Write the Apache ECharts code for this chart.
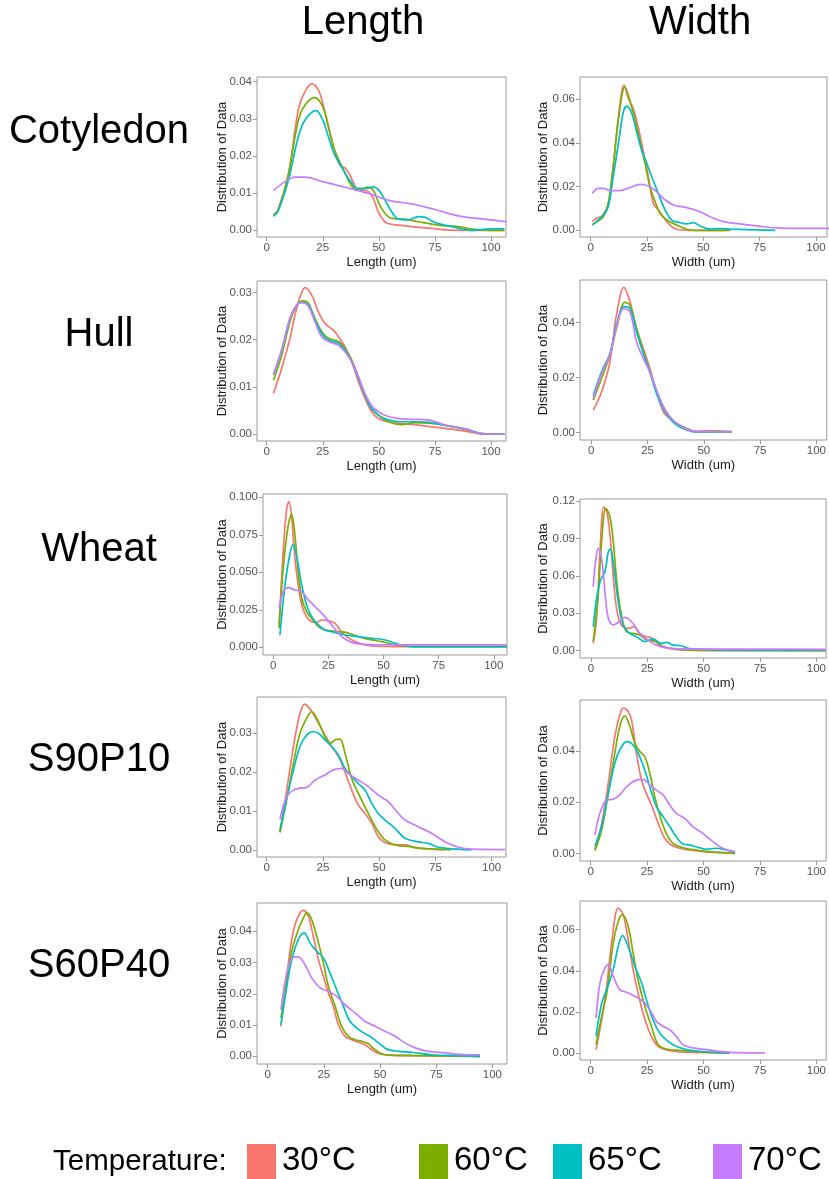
<!DOCTYPE html>
<html>
<head>
<meta charset="utf-8">
<script src="https://cdn.jsdelivr.net/npm/echarts@6/dist/echarts.min.js"></script>
<style>
html,body{margin:0;padding:0;background:#fff;}
#chart{width:829px;height:1179px;}
</style>
</head>
<body>
<div id="chart"></div>
<script>
// ---------- DATA ----------
const temperatures = ['30°C', '60°C', '65°C', '70°C'];
const columnTitles = ['Length', 'Width'];
const rowTitles = ['Cotyledon', 'Hull', 'Wheat', 'S90P10', 'S60P40'];
const xTicks = [0, 25, 50, 75, 100];

// Cotyledon - Length
const cotLen30 = [[3.0,0.0041],[5,0.0055],[9.7,0.0153],[14.1,0.0324],[17.1,0.0373],[20.1,0.0394],[23,0.0378],[25,0.0342],[27.5,0.0279],[30,0.0221],[32.5,0.0176],[35,0.0167],[37.5,0.0144],[40,0.0113],[42.5,0.0108],[45,0.0106],[47.5,0.0086],[50,0.0046],[52.7,0.0023],[55,0.0017],[58.7,0.0014],[64.6,0.0010],[73.6,0.0005],[80,0.0001],[90,0.0],[106,0.0]];
const cotLen60 = [[3.0,0.0041],[5,0.0052],[9.7,0.0150],[14.1,0.0297],[17.1,0.0337],[21.2,0.0357],[25,0.0333],[27.5,0.0279],[30,0.0221],[32.5,0.0185],[35,0.0153],[37.5,0.0122],[40,0.0108],[42.5,0.0110],[45,0.0116],[47.5,0.0108],[50,0.0073],[52.7,0.0046],[55.7,0.0032],[61.7,0.0030],[67.6,0.0023],[76.5,0.0014],[85.4,0.0010],[91.4,0.0003],[100,0.0],[106,0.0]];
const cotLen65 = [[3.0,0.0038],[5,0.0050],[9.7,0.0135],[14.1,0.0252],[17.1,0.0297],[22,0.0322],[25,0.0297],[27.5,0.0252],[30,0.0207],[32.5,0.0180],[35,0.0153],[37.5,0.0131],[40,0.0113],[45,0.0113],[47.5,0.0117],[50,0.0108],[52.7,0.0082],[55.7,0.0050],[58.7,0.0030],[63,0.0028],[67.6,0.0037],[70.6,0.0035],[75,0.0021],[82.5,0.0010],[91.4,0.0],[100,0.0004],[106,0.0004]];
const cotLen70 = [[3,0.0107],[8.2,0.0131],[12.6,0.0143],[17.1,0.0143],[25,0.0131],[35,0.0116],[45,0.0100],[55,0.0080],[64.6,0.0071],[75,0.0056],[85.4,0.0039],[100,0.0028],[107,0.0023]];

// Cotyledon - Width
const cotWid30 = [[0.7,0.0040],[2.7,0.0055],[5.3,0.0068],[7.8,0.0123],[10,0.0291],[12.3,0.0519],[14.8,0.0664],[16.7,0.0603],[18.9,0.0557],[21.2,0.0466],[23.4,0.0359],[25.6,0.0245],[27.8,0.0123],[30,0.0093],[32.2,0.0062],[35.2,0.0024],[38.2,0.0005],[44,0.0],[60,0.0]];
const cotWid60 = [[0.7,0.0027],[5.6,0.0062],[7.8,0.0123],[10,0.0291],[12.3,0.0504],[15.2,0.0656],[17.5,0.0588],[19.7,0.0504],[21.9,0.0405],[24.1,0.0306],[26.3,0.0199],[28.6,0.0131],[30.8,0.0078],[33.7,0.0047],[38.2,0.0024],[42.6,0.0005],[46,0.0],[62,0.0]];
const cotWid65 = [[0.7,0.0024],[5.6,0.0070],[7.8,0.0108],[10,0.0245],[12.3,0.0397],[14.5,0.0542],[16,0.0568],[18.2,0.0535],[20.4,0.0451],[22.6,0.0367],[24.9,0.0306],[27.1,0.0245],[30,0.0169],[33,0.0093],[35.9,0.0047],[38.9,0.0037],[42.6,0.0029],[45.6,0.0035],[48.5,0.0020],[53,0.0005],[57.4,0.0008],[61.8,0.0005],[82,0.0]];
const cotWid70 = [[0.7,0.0169],[3.4,0.0192],[5.6,0.0192],[8.6,0.0181],[13,0.0181],[17.5,0.0196],[21.9,0.0210],[25.6,0.0203],[29.3,0.0177],[32.2,0.0146],[36.7,0.0116],[42.6,0.0104],[48.5,0.0085],[53,0.0062],[58.9,0.0040],[66.3,0.0029],[73.7,0.0020],[82.5,0.0011],[91.4,0.0009],[106,0.0009]];

// Hull - Length
const hullLen30 = [[3.0,0.0086],[6.7,0.0139],[10.4,0.0203],[12.6,0.0252],[14.9,0.0291],[17.1,0.0310],[20.1,0.0294],[23,0.0259],[26,0.0234],[29.7,0.0220],[32,0.0206],[34.9,0.0185],[37.9,0.0153],[40.9,0.0111],[43.8,0.0076],[46.8,0.0047],[49.8,0.0033],[54.2,0.0026],[60.2,0.0022],[66.1,0.0020],[72.1,0.0016],[79.5,0.0012],[88.4,0.0006],[94.4,0.0001],[100,0.0],[106,0.0]];
const hullLen60 = [[3.0,0.0114],[6.7,0.0167],[10.4,0.0238],[13.4,0.0273],[16.3,0.0282],[18.6,0.0277],[21.5,0.0245],[24.5,0.0217],[27.5,0.0203],[32,0.0196],[34.9,0.0181],[37.9,0.0157],[40.9,0.0121],[43.8,0.0083],[46.8,0.0054],[49.8,0.0040],[54.2,0.0026],[60.2,0.0020],[66.1,0.0024],[72.1,0.0023],[76.5,0.0021],[82.5,0.0016],[89.9,0.0008],[95.8,0.0001],[100,0.0],[106,0.0]];
const hullLen65 = [[3.0,0.0125],[6.7,0.0178],[10.4,0.0245],[13.4,0.0273],[15.6,0.0279],[18.6,0.0273],[21.5,0.0242],[24.5,0.0213],[27.5,0.0199],[32,0.0192],[34.9,0.0178],[37.9,0.0153],[40.9,0.0118],[43.8,0.0083],[46.8,0.0054],[49.8,0.0040],[54.2,0.0030],[60.2,0.0026],[66.1,0.0026],[72.1,0.0025],[79.5,0.0018],[88.4,0.0011],[95.8,0.0001],[100,0.0],[106,0.0]];
const hullLen70 = [[3.0,0.0125],[6.7,0.0178],[10.4,0.0245],[13.4,0.0273],[15.6,0.0278],[18.6,0.0270],[21.5,0.0238],[24.5,0.0206],[27.5,0.0196],[32,0.0188],[34.9,0.0174],[37.9,0.0153],[40.9,0.0121],[43.8,0.0086],[46.8,0.0060],[49.8,0.0047],[54.2,0.0037],[60.2,0.0032],[66.1,0.0031],[72.1,0.0030],[79.5,0.0019],[88.4,0.0011],[95.8,0.0001],[100,0.0],[106,0.0]];

// Hull - Width
const hullWid30 = [[0.9,0.0082],[4.6,0.0149],[8.3,0.0258],[11.2,0.0428],[14.5,0.0528],[17.2,0.0476],[20.1,0.0379],[23.1,0.0307],[26,0.0234],[29,0.0149],[32,0.0076],[34.9,0.0052],[37.9,0.0034],[42.3,0.0013],[46.7,0.0004],[51.2,0.0007],[55.6,0.0004],[62.3,0.0004]];
const hullWid60 = [[0.9,0.0119],[4.6,0.0198],[8.3,0.0282],[11.2,0.0379],[14.9,0.0474],[17.2,0.0464],[20.1,0.0379],[23.1,0.0295],[26,0.0222],[29,0.0149],[32,0.0095],[34.9,0.0058],[37.9,0.0034],[42.3,0.0016],[46.7,0.0004],[51.2,0.0004],[55.6,0.0007],[62.3,0.0001]];
const hullWid65 = [[0.9,0.0135],[4.6,0.0222],[8.3,0.0288],[11.2,0.0392],[14.5,0.0458],[17.2,0.0452],[20.1,0.0367],[23.1,0.0288],[26,0.0222],[29,0.0143],[32,0.0088],[34.9,0.0052],[37.9,0.0028],[42.3,0.0010],[46.7,0.0002],[62.3,0.0004]];
const hullWid70 = [[0.9,0.0125],[4.6,0.0216],[8.3,0.0282],[11.2,0.0385],[14.5,0.0452],[17.2,0.0440],[20.1,0.0331],[23.1,0.0270],[26,0.0222],[29,0.0155],[32,0.0095],[34.9,0.0058],[37.9,0.0034],[42.3,0.0013],[46.7,0.0004],[62.3,0.0004]];

// Wheat - Length
const wheatLen30 = [[2.6,0.0149],[4.5,0.0638],[6.1,0.0927],[7.1,0.0971],[8.3,0.0871],[9.8,0.0593],[11.3,0.0416],[12.9,0.0282],[15.1,0.0204],[17.4,0.0171],[19.7,0.0167],[21.9,0.0182],[25,0.0176],[28,0.0160],[30.3,0.0116],[33.3,0.0071],[37.1,0.0038],[41.6,0.0016],[47.7,0.0007],[59.8,0.0004],[106,0.0004]];
const wheatLen60 = [[2.6,0.0127],[4.5,0.0527],[6.8,0.0816],[8.3,0.0887],[9.8,0.0749],[11.3,0.0504],[12.9,0.0327],[15.1,0.0238],[17.4,0.0193],[20.4,0.0138],[23.4,0.0116],[26.5,0.0109],[29.5,0.0104],[33.3,0.0098],[35.6,0.0087],[40.1,0.0064],[44.6,0.0049],[49.2,0.0038],[53.7,0.0022],[59.8,0.0007],[75,0.0004],[106,0.0004]];
const wheatLen65 = [[3,0.0082],[5.3,0.0416],[7.6,0.0627],[9.1,0.0687],[10.6,0.0604],[12.9,0.0416],[15.1,0.0282],[17.4,0.0204],[20.4,0.0149],[23.4,0.0116],[28,0.0100],[32.5,0.0082],[38.6,0.0071],[44.6,0.0060],[50.7,0.0049],[56.7,0.0020],[62.8,0.0004],[106,0.0004]];
const wheatLen70 = [[2.6,0.0260],[4.5,0.0371],[6.8,0.0398],[9.8,0.0382],[12.9,0.0371],[15.9,0.0316],[19.7,0.0260],[22.7,0.0216],[26.5,0.0149],[31,0.0071],[35.6,0.0033],[41.6,0.0020],[52.2,0.0016],[67.3,0.0016],[90,0.0016],[106,0.0016]];

// Wheat - Width
const wheatWid30 = [[1.0,0.0059],[2.5,0.0259],[4,0.0794],[5.7,0.1154],[7.2,0.1101],[8.7,0.0874],[10.2,0.0526],[11.6,0.0313],[13.5,0.0206],[16.5,0.0179],[19.4,0.0192],[21.6,0.0139],[24.6,0.0112],[26.8,0.0104],[30.5,0.0045],[34.9,0.0019],[40.9,0.0005],[60,0.0001],[104,0.0001]];
const wheatWid60 = [[1.0,0.0072],[3.2,0.0446],[4.7,0.0874],[6.6,0.1141],[8.4,0.1074],[9.9,0.0874],[11.6,0.0526],[13.5,0.0286],[15.8,0.0152],[18.7,0.0139],[21.6,0.0126],[24.6,0.0086],[29,0.0072],[32,0.0032],[37.9,0.0013],[46.7,0.0005],[104,0.0001]];
const wheatWid65 = [[1.0,0.0192],[2.5,0.0420],[4.3,0.0567],[6.2,0.0633],[7.7,0.0794],[8.7,0.0815],[10.2,0.0660],[12.1,0.0393],[14.3,0.0206],[17.2,0.0139],[20.2,0.0112],[23.9,0.0072],[27.5,0.0094],[31.2,0.0059],[33.4,0.0067],[36.4,0.0045],[40.1,0.0040],[43,0.0019],[49.6,0.0011],[61,0.0005],[104,0.0005]];
const wheatWid70 = [[1.0,0.0513],[2.2,0.0740],[3.2,0.0820],[4.7,0.0740],[6.2,0.0473],[7.7,0.0259],[9.9,0.0206],[12.5,0.0232],[15,0.0267],[18,0.0232],[20.9,0.0152],[24.6,0.0094],[29,0.0045],[34.9,0.0019],[46.7,0.0013],[60,0.0013],[75,0.0013],[104,0.0011]];

// S90P10 - Length
const s90Len30 = [[5.9,0.0047],[8.9,0.0154],[11.9,0.0266],[14.8,0.0351],[17,0.0375],[20,0.0356],[23,0.0326],[25.9,0.0296],[28.9,0.0266],[31.9,0.0240],[34.8,0.0201],[37.8,0.0154],[40.7,0.0116],[43.7,0.0094],[46.7,0.0069],[49.6,0.0034],[52.6,0.0019],[57,0.0013],[61.5,0.0013],[65.9,0.0006],[73.3,0.0002],[79,0.0]];
const s90Len60 = [[5.9,0.0045],[8.9,0.0129],[11.9,0.0223],[14.8,0.0300],[17.8,0.0339],[20,0.0356],[23,0.0330],[25.9,0.0291],[28.1,0.0274],[30.4,0.0283],[32.6,0.0285],[34.8,0.0249],[37.8,0.0184],[40.7,0.0146],[43.7,0.0111],[46.7,0.0077],[49.6,0.0047],[52.6,0.0026],[57,0.0013],[63,0.0009],[69,0.0004],[76.3,0.0002],[82,0.0]];
const s90Len65 = [[5.9,0.0051],[8.9,0.0133],[11.9,0.0206],[14.8,0.0266],[17.8,0.0296],[20.5,0.0304],[23,0.0300],[25.9,0.0283],[28.9,0.0266],[31.9,0.0244],[34.8,0.0210],[37.8,0.0189],[40.7,0.0171],[43.7,0.0154],[46.7,0.0120],[49.6,0.0094],[52.6,0.0077],[57,0.0056],[61.5,0.0030],[67.4,0.0021],[71.9,0.0017],[76.3,0.0007],[85.2,0.0002],[91,0.0]];
const s90Len70 = [[5.9,0.0079],[8.9,0.0137],[11.9,0.0154],[14.8,0.0159],[17.8,0.0161],[21.5,0.0180],[25.9,0.0193],[29.6,0.0206],[33.3,0.0210],[37,0.0193],[40.7,0.0180],[45.2,0.0163],[49.6,0.0141],[54.1,0.0124],[57.8,0.0099],[61.5,0.0077],[67.4,0.0060],[73.3,0.0043],[79.3,0.0021],[85.2,0.0007],[91.1,0.0002],[106,0.0001]];

// S90P10 - Width
const s90Wid30 = [[1.9,0.0016],[4.9,0.0118],[7.8,0.0275],[10.7,0.0458],[12.9,0.0542],[14.4,0.0569],[16.6,0.0556],[18.1,0.0523],[20.3,0.0392],[22.5,0.0288],[24.7,0.0235],[26.9,0.0190],[29.9,0.0118],[32.8,0.0059],[35.7,0.0033],[39.4,0.0020],[43.8,0.0013],[49.7,0.0007],[57,0.0003],[64,0.0]];
const s90Wid60 = [[1.9,0.0010],[4.9,0.0092],[7.8,0.0235],[10.7,0.0392],[12.9,0.0497],[15.1,0.0539],[17.4,0.0497],[19.6,0.0431],[21.8,0.0399],[24,0.0379],[26.2,0.0314],[28.4,0.0222],[30.6,0.0150],[33.5,0.0078],[36.5,0.0039],[40.9,0.0022],[46.8,0.0013],[52.6,0.0007],[64,0.0]];
const s90Wid65 = [[1.9,0.0029],[4.9,0.0105],[7.8,0.0235],[10.7,0.0353],[12.9,0.0405],[15.9,0.0438],[18.1,0.0431],[20.3,0.0405],[23.2,0.0346],[26.2,0.0261],[29.1,0.0183],[32.1,0.0144],[35,0.0105],[37.9,0.0065],[40.9,0.0037],[43.8,0.0033],[46.8,0.0026],[51.2,0.0016],[55.6,0.0020],[60,0.0013],[64,0.0004]];
const s90Wid70 = [[1.9,0.0072],[4.1,0.0157],[7.1,0.0209],[10,0.0212],[12.9,0.0229],[15.9,0.0261],[19.6,0.0285],[23.2,0.0290],[26.2,0.0268],[29.1,0.0248],[32.1,0.0229],[35,0.0190],[37.9,0.0157],[41.6,0.0137],[45.3,0.0105],[49.7,0.0078],[54.1,0.0046],[58.5,0.0020],[64,0.0007]];

// S60P40 - Length
const s60Len30 = [[5.9,0.0096],[8.5,0.0256],[10.7,0.0373],[12.9,0.0437],[15.9,0.0467],[18.1,0.0448],[20.3,0.0384],[22.6,0.0309],[24.8,0.0256],[27,0.0203],[29.2,0.0160],[31.5,0.0100],[34.4,0.0064],[37.4,0.0053],[40.4,0.0045],[43.3,0.0037],[46.3,0.0021],[49.3,0.0009],[55,0.0003],[64,0.0002],[94.5,0.0]];
const s60Len60 = [[5.9,0.0123],[8.5,0.0240],[10.7,0.0336],[13.6,0.0405],[15.9,0.0443],[17.4,0.0459],[19.6,0.0437],[22.6,0.0363],[24.8,0.0299],[27,0.0224],[30,0.0160],[32.9,0.0096],[35.9,0.0064],[38.9,0.0053],[41.8,0.0048],[44.8,0.0040],[47.8,0.0021],[52.2,0.0005],[61,0.0003],[94.5,0.0]];
const s60Len65 = [[5.9,0.0101],[8.5,0.0224],[10.7,0.0309],[13.6,0.0373],[16.3,0.0395],[18.8,0.0363],[21.8,0.0336],[24.8,0.0315],[27.7,0.0267],[30.7,0.0213],[33.7,0.0160],[36.6,0.0112],[39.6,0.0091],[42.6,0.0075],[45.5,0.0064],[49.3,0.0043],[53,0.0023],[58.2,0.0016],[64.1,0.0013],[73,0.0005],[85,0.0002],[94.5,0.0]];
const s60Len70 = [[5.9,0.0149],[8.5,0.0267],[11,0.0315],[13.6,0.0318],[16.6,0.0293],[19.6,0.0251],[23.3,0.0219],[27,0.0208],[30.7,0.0192],[34.4,0.0165],[38.9,0.0139],[43.3,0.0112],[47.8,0.0096],[52.2,0.0080],[56.7,0.0064],[61.1,0.0043],[65.6,0.0027],[71.5,0.0016],[78.9,0.0011],[87.8,0.0005],[94.5,0.0005]];

// S60P40 - Width
const s60Wid30 = [[2.4,0.0018],[4.9,0.0163],[7.1,0.0325],[9.3,0.0535],[12.2,0.0705],[14.4,0.0673],[16.6,0.0552],[18.8,0.0406],[21,0.0293],[23.2,0.0196],[26.2,0.0099],[29.1,0.0042],[32.1,0.0021],[36.5,0.0010],[42,0.0005],[61.5,0.0]];
const s60Wid60 = [[2.4,0.0042],[4.9,0.0180],[7.1,0.0290],[10,0.0535],[12.2,0.0640],[14.1,0.0673],[16.6,0.0616],[18.8,0.0487],[21,0.0357],[24,0.0228],[26.9,0.0131],[29.9,0.0042],[33.5,0.0021],[37.9,0.0015],[43.8,0.0010],[51.2,0.0005],[61.5,0.0002]];
const s60Wid65 = [[2.4,0.0082],[4.9,0.0244],[7.1,0.0309],[10,0.0406],[12.2,0.0519],[14.1,0.0571],[16.6,0.0519],[19.6,0.0422],[22.6,0.0341],[24.7,0.0260],[27.6,0.0163],[30.6,0.0099],[34.3,0.0058],[37.9,0.0034],[42.4,0.0018],[48.2,0.0010],[55,0.0005],[61.5,0.0002]];
const s60Wid70 = [[2.4,0.0171],[4.1,0.0341],[6.3,0.0414],[7.8,0.0430],[10,0.0374],[12.9,0.0309],[15.9,0.0296],[19.6,0.0277],[23.2,0.0252],[26.2,0.0212],[29.1,0.0155],[32.1,0.0131],[35,0.0115],[37.9,0.0082],[40.9,0.0042],[45.3,0.0026],[51.2,0.0018],[57.1,0.0010],[64.4,0.0003],[77.2,0.0002]];

// y tick values per panel
const yTicksCotLen = [0, 0.01, 0.02, 0.03, 0.04];
const yTicksCotWid = [0, 0.02, 0.04, 0.06];
const yTicksHullLen = [0, 0.01, 0.02, 0.03];
const yTicksHullWid = [0, 0.02, 0.04];
const yTicksWheatLen = [0, 0.025, 0.05, 0.075, 0.1];
const yTicksWheatWid = [0, 0.03, 0.06, 0.09, 0.12];
const yTicksS90Len = [0, 0.01, 0.02, 0.03];
const yTicksS90Wid = [0, 0.02, 0.04];
const yTicksS60Len = [0, 0.01, 0.02, 0.03, 0.04];
const yTicksS60Wid = [0, 0.02, 0.04, 0.06];

// ---------- LAYOUT / STYLE ----------
const colors = ['#F8766D', '#7CAE00', '#00BFC4', '#C77CFF'];
const panels = [
  {series:[cotLen30,cotLen60,cotLen65,cotLen70], yTicks:yTicksCotLen, dec:2, xName:'Length (um)',
   grid:[257,77,249,160], x:[-4.32,106.7], y:[-0.0018,0.04126], gap:28},
  {series:[cotWid30,cotWid60,cotWid65,cotWid70], yTicks:yTicksCotWid, dec:2, xName:'Width (um)',
   grid:[580,77,247,160], x:[-4.75,104.9], y:[-0.00306,0.0701], gap:30},
  {series:[hullLen30,hullLen60,hullLen65,hullLen70], yTicks:yTicksHullLen, dec:2, xName:'Length (um)',
   grid:[257,281,249,160], x:[-4.32,106.7], y:[-0.00148,0.0324], gap:28},
  {series:[hullWid30,hullWid60,hullWid65,hullWid70], yTicks:yTicksHullWid, dec:2, xName:'Width (um)',
   grid:[580,280,247,160], x:[-5.0,104.6], y:[-0.00265,0.0555], gap:30},
  {series:[wheatLen30,wheatLen60,wheatLen65,wheatLen70], yTicks:yTicksWheatLen, dec:3, xName:'Length (um)',
   grid:[263,494,244,161], x:[-4.67,106.0], y:[-0.00513,0.1022], gap:34},
  {series:[wheatWid30,wheatWid60,wheatWid65,wheatWid70], yTicks:yTicksWheatWid, dec:2, xName:'Width (um)',
   grid:[580,499,247,159], x:[-4.86,104.3], y:[-0.00585,0.1216], gap:30},
  {series:[s90Len30,s90Len60,s90Len65,s90Len70], yTicks:yTicksS90Len, dec:2, xName:'Length (um)',
   grid:[257,697,249,160], x:[-4.31,106.4], y:[-0.0018,0.03933], gap:28},
  {series:[s90Wid30,s90Wid60,s90Wid65,s90Wid70], yTicks:yTicksS90Wid, dec:2, xName:'Width (um)',
   grid:[580,700,247,161], x:[-4.72,104.3], y:[-0.0030,0.0601], gap:30},
  {series:[s60Len30,s60Len60,s60Len65,s60Len70], yTicks:yTicksS60Len, dec:2, xName:'Length (um)',
   grid:[257,903,250,161], x:[-4.76,106.5], y:[-0.00246,0.04906], gap:28},
  {series:[s60Wid30,s60Wid60,s60Wid65,s60Wid70], yTicks:yTicksS60Wid, dec:2, xName:'Width (um)',
   grid:[580,901,247,159], x:[-4.72,104.3], y:[-0.00325,0.0739], gap:30}
];

const FONT = "'Liberation Sans', Arial, sans-serif";
const frameColor = '#9a9a9a';
const tickColor = '#555';

const grids = [], xAxes = [], yAxes = [], series = [];
panels.forEach((p, i) => {
  grids.push({left:p.grid[0], top:p.grid[1], width:p.grid[2], height:p.grid[3],
    show:true, borderColor:frameColor, borderWidth:1, backgroundColor:'#fff', containLabel:false});
  xAxes.push({type:'value', gridIndex:i, min:p.x[0], max:p.x[1], position:'bottom',
    name:p.xName, nameLocation:'middle', nameGap:19, nameMoveOverlap:false,
    nameTextStyle:{fontFamily:FONT, fontSize:13, color:'#1a1a1a'},
    axisLine:{show:false, onZero:false}, splitLine:{show:false},
    axisTick:{show:true, length:4, lineStyle:{color:frameColor}, customValues:xTicks},
    axisLabel:{fontFamily:FONT, fontSize:11.5, color:tickColor, margin:5, customValues:xTicks,
      formatter:v => String(Math.round(v))}});
  yAxes.push({type:'value', gridIndex:i, min:p.y[0], max:p.y[1], position:'left',
    name:'Distribution of Data', nameLocation:'middle', nameGap:p.gap, nameRotate:90,
    nameMoveOverlap:false,
    nameTextStyle:{fontFamily:FONT, fontSize:13, color:'#1a1a1a'},
    axisLine:{show:false, onZero:false}, splitLine:{show:false},
    axisTick:{show:true, length:4, lineStyle:{color:frameColor}, customValues:p.yTicks},
    axisLabel:{fontFamily:FONT, fontSize:11.5, color:tickColor, margin:5, customValues:p.yTicks,
      formatter:v => v.toFixed(p.dec)}});
  p.series.forEach((d, k) => {
    series.push({type:'line', name:temperatures[k], xAxisIndex:i, yAxisIndex:i, data:d,
      showSymbol:false, smooth:0.35, clip:true, silent:true,
      lineStyle:{color:colors[k], width:1.7}, itemStyle:{color:colors[k]}});
  });
});

// Titles and legend drawn as graphic text
const graphics = [];
const colCenters = [363, 700];
columnTitles.forEach((t, i) => graphics.push({type:'text', x:colCenters[i], y:23,
  style:{text:t, font:"40px " + FONT, fill:'#000', textAlign:'center', textVerticalAlign:'middle'}}));
const rowCenters = [132, 335, 550, 760, 966];
rowTitles.forEach((t, i) => graphics.push({type:'text', x:99, y:rowCenters[i],
  style:{text:t, font:"40px " + FONT, fill:'#000', textAlign:'center', textVerticalAlign:'middle'}}));

graphics.push({type:'text', x:53, y:1162,
  style:{text:'Temperature:', font:"29.5px " + FONT, fill:'#000', textAlign:'left', textVerticalAlign:'middle'}});
const swatchX = [247, 419, 553, 713];
temperatures.forEach((t, k) => {
  graphics.push({type:'rect', shape:{x:swatchX[k], y:1144, width:29, height:35}, style:{fill:colors[k]}});
  graphics.push({type:'text', x:swatchX[k] + 35, y:1161,
    style:{text:t, font:"33px " + FONT, fill:'#000', textAlign:'left', textVerticalAlign:'middle'}});
});

const chart = echarts.init(document.getElementById('chart'), null, {renderer:'canvas'});
chart.setOption({
  animation:false,
  backgroundColor:'#fff',
  grid:grids, xAxis:xAxes, yAxis:yAxes, series:series,
  graphic:graphics
});
</script>
</body>
</html>
